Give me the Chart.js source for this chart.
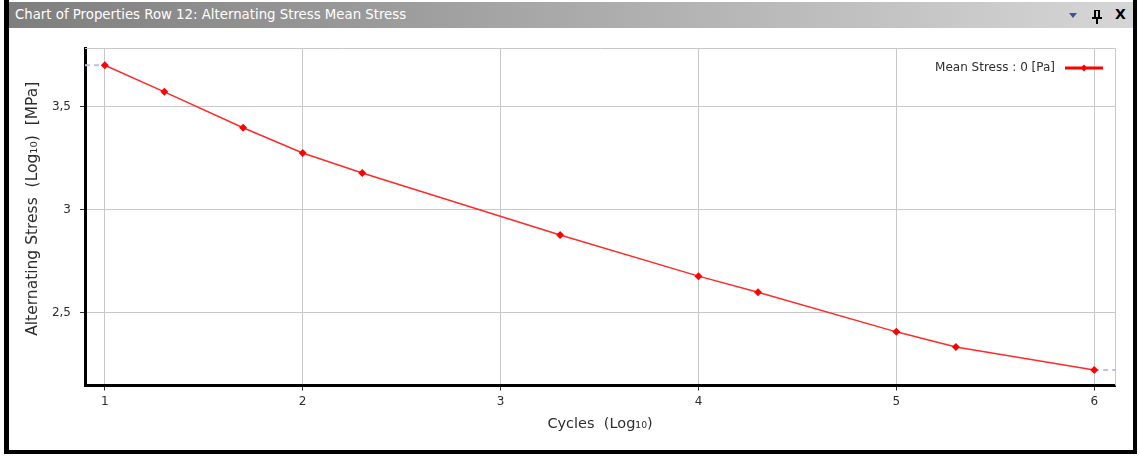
<!DOCTYPE html>
<html>
<head>
<meta charset="utf-8">
<script src="https://cdn.jsdelivr.net/npm/chart.js@4.4.1/dist/chart.umd.min.js"></script>
<style>
  html, body { margin: 0; padding: 0; background: #fff; }
  body { position: relative; width: 1140px; height: 459px; overflow: hidden; }
  #frame {
    position: absolute; left: 4px; top: 0; width: 1124px; height: 450px;
    border-left: 5px solid #000; border-right: 4px solid #000; border-bottom: 4px solid #000;
    background: #fff;
  }
  #titlebar {
    position: absolute; left: 9px; top: 2px; width: 1124px; height: 26px;
    background: linear-gradient(to right, #7e7e7e, #d6d6d6);
  }
  #titletext {
    position: absolute; left: 6px; top: 5px; color: #fff;
    font: 13.3px "DejaVu Sans", sans-serif; white-space: nowrap;
  }
  #menu {
    position: absolute; left: 1060px; top: 11px; width: 0; height: 0;
    border-left: 4px solid transparent; border-right: 4px solid transparent;
    border-top: 5px solid #3f4f9a;
  }
  .pin { position: absolute; background: #000; }
  #close {
    position: absolute; left: 1106px; top: 4px; color: #000;
    font: bold 14px "DejaVu Sans", sans-serif;
  }
  canvas { position: absolute; left: 0; top: 0; }
</style>
</head>
<body>
<div id="frame"></div>
<div id="titlebar">
  <div id="titletext">Chart of Properties Row 12: Alternating Stress Mean Stress</div>
  <div id="menu"></div>
  <div class="pin" style="left:1085px;top:8px;width:2px;height:8px"></div>
  <div class="pin" style="left:1087px;top:8px;width:3px;height:1px"></div>
  <div class="pin" style="left:1089px;top:8px;width:2px;height:8px"></div>
  <div class="pin" style="left:1083px;top:15px;width:10px;height:2px"></div>
  <div class="pin" style="left:1087px;top:17px;width:2px;height:5px"></div>
  <div id="close">X</div>
</div>
<canvas id="chart" width="1140" height="459"></canvas>
<script>
// log10(cycles)
var cycles = [1, 1.30103, 1.69897, 2, 2.30103, 3.30103, 4, 4.30103, 5, 5.30103, 6];
// log10(alternating stress in MPa)
var stress = [3.700, 3.571, 3.397, 3.275, 3.178, 2.877, 2.678, 2.600, 2.408, 2.335, 2.223];
var xTicks = [1, 2, 3, 4, 5, 6];
var yTicks = [2.5, 3, 3.5];
var xRange = [0.9, 6.105];
var yRange = [2.148, 3.7835];
var seriesLabel = 'Mean Stress : 0 [Pa]';
var xTitle = 'Cycles  (Log\u2081\u2080)';
var yTitle = 'Alternating Stress  (Log\u2081\u2080)  [MPa]';

var FONT = '"DejaVu Sans", Verdana, sans-serif';
var TEXT = '#2e2e2e';

function points(xs, ys) {
    return xs.map(function (x, i) { return { x: x, y: ys[i] }; });
}

var extraLeft = points([xRange[0], cycles[0]], [stress[0], stress[0]]);
var last = cycles.length - 1;
var extraRight = points([cycles[last], xRange[1]], [stress[last], stress[last]]);

var framePlugin = {
    id: 'frameBits',
    afterDraw: function (chart) {
        var ctx = chart.ctx, a = chart.chartArea;
        ctx.save();
        // top and right plot edges
        ctx.strokeStyle = '#c8c8c8';
        ctx.lineWidth = 1;
        ctx.beginPath();
        ctx.moveTo(a.left, a.top + 0.5);
        ctx.lineTo(Math.round(a.right) + 0.5, a.top + 0.5);
        ctx.lineTo(Math.round(a.right) + 0.5, a.bottom);
        ctx.stroke();

        // y axis title
        ctx.fillStyle = TEXT;
        ctx.font = '15.5px ' + FONT;
        ctx.textAlign = 'center';
        ctx.textBaseline = 'middle';
        ctx.translate(a.left - 52, (a.top + a.bottom) / 2 - 8);
        ctx.rotate(-Math.PI / 2);
        ctx.fillText(yTitle, 0, 0);
        ctx.restore();

        // legend inside plot, top right
        ctx.save();
        var ly = a.top + 20;
        ctx.fillStyle = TEXT;
        ctx.font = '12px ' + FONT;
        ctx.textAlign = 'right';
        ctx.textBaseline = 'middle';
        ctx.fillText(chart.data.datasets[0].label, a.right - 60, ly);
        ctx.strokeStyle = '#ff0000';
        ctx.lineWidth = 3;
        ctx.beginPath();
        ctx.moveTo(a.right - 50, ly);
        ctx.lineTo(a.right - 12, ly);
        ctx.stroke();
        ctx.fillStyle = '#ff0000';
        var cx = a.right - 31;
        ctx.beginPath();
        ctx.moveTo(cx, ly - 3.5);
        ctx.lineTo(cx + 3.5, ly);
        ctx.lineTo(cx, ly + 3.5);
        ctx.lineTo(cx - 3.5, ly);
        ctx.closePath();
        ctx.fill();
        ctx.restore();
    }
};

function fmt(v) { return String(v).replace('.', ','); }

var dashed = {
    borderColor: '#bdbdf5',
    borderWidth: 2,
    borderDash: [5, 4],
    pointRadius: 0,
    fill: false
};

new Chart(document.getElementById('chart').getContext('2d'), {
    type: 'line',
    data: {
        datasets: [
            {
                label: seriesLabel,
                data: points(cycles, stress),
                borderColor: '#ff2a2a',
                borderWidth: 1.5,
                pointStyle: 'rectRot',
                pointRadius: 4,
                pointBorderWidth: 0,
                pointBackgroundColor: '#ff0000',
                tension: 0,
                order: 1
            },
            Object.assign({ label: 'left', data: extraLeft, order: 2 }, dashed),
            Object.assign({ label: 'right', data: extraRight, order: 2 }, dashed)
        ]
    },
    options: {
        responsive: false,
        animation: false,
        layout: { padding: { left: 20, right: 25, top: 48, bottom: 20 } },
        plugins: { legend: { display: false }, tooltip: { enabled: false } },
        scales: {
            x: {
                type: 'linear',
                min: xRange[0],
                max: xRange[1],
                afterBuildTicks: function (s) { s.ticks = xTicks.map(function (v) { return { value: v }; }); },
                afterFit: function (s) { s.height = 53.5; },
                grid: { color: '#c8c8c8', tickColor: '#333', tickLength: 5, lineWidth: 1 },
                border: { color: '#000', width: 3 },
                ticks: { color: TEXT, font: { family: FONT, size: 12 }, padding: 4, maxRotation: 0, callback: fmt },
                title: { display: true, text: xTitle, color: TEXT, font: { family: FONT, size: 14.5 }, padding: { top: 0, bottom: 6 } }
            },
            y: {
                type: 'linear',
                min: yRange[0],
                max: yRange[1],
                afterBuildTicks: function (s) { s.ticks = yTicks.map(function (v) { return { value: v }; }); },
                afterFit: function (s) { s.width = 65; },
                grid: { color: '#c8c8c8', tickColor: '#333', tickLength: 5, lineWidth: 1 },
                border: { color: '#000', width: 3 },
                ticks: { color: TEXT, font: { family: FONT, size: 12 }, padding: 9, callback: fmt }
            }
        }
    },
    plugins: [framePlugin]
});
</script>
</body>
</html>
